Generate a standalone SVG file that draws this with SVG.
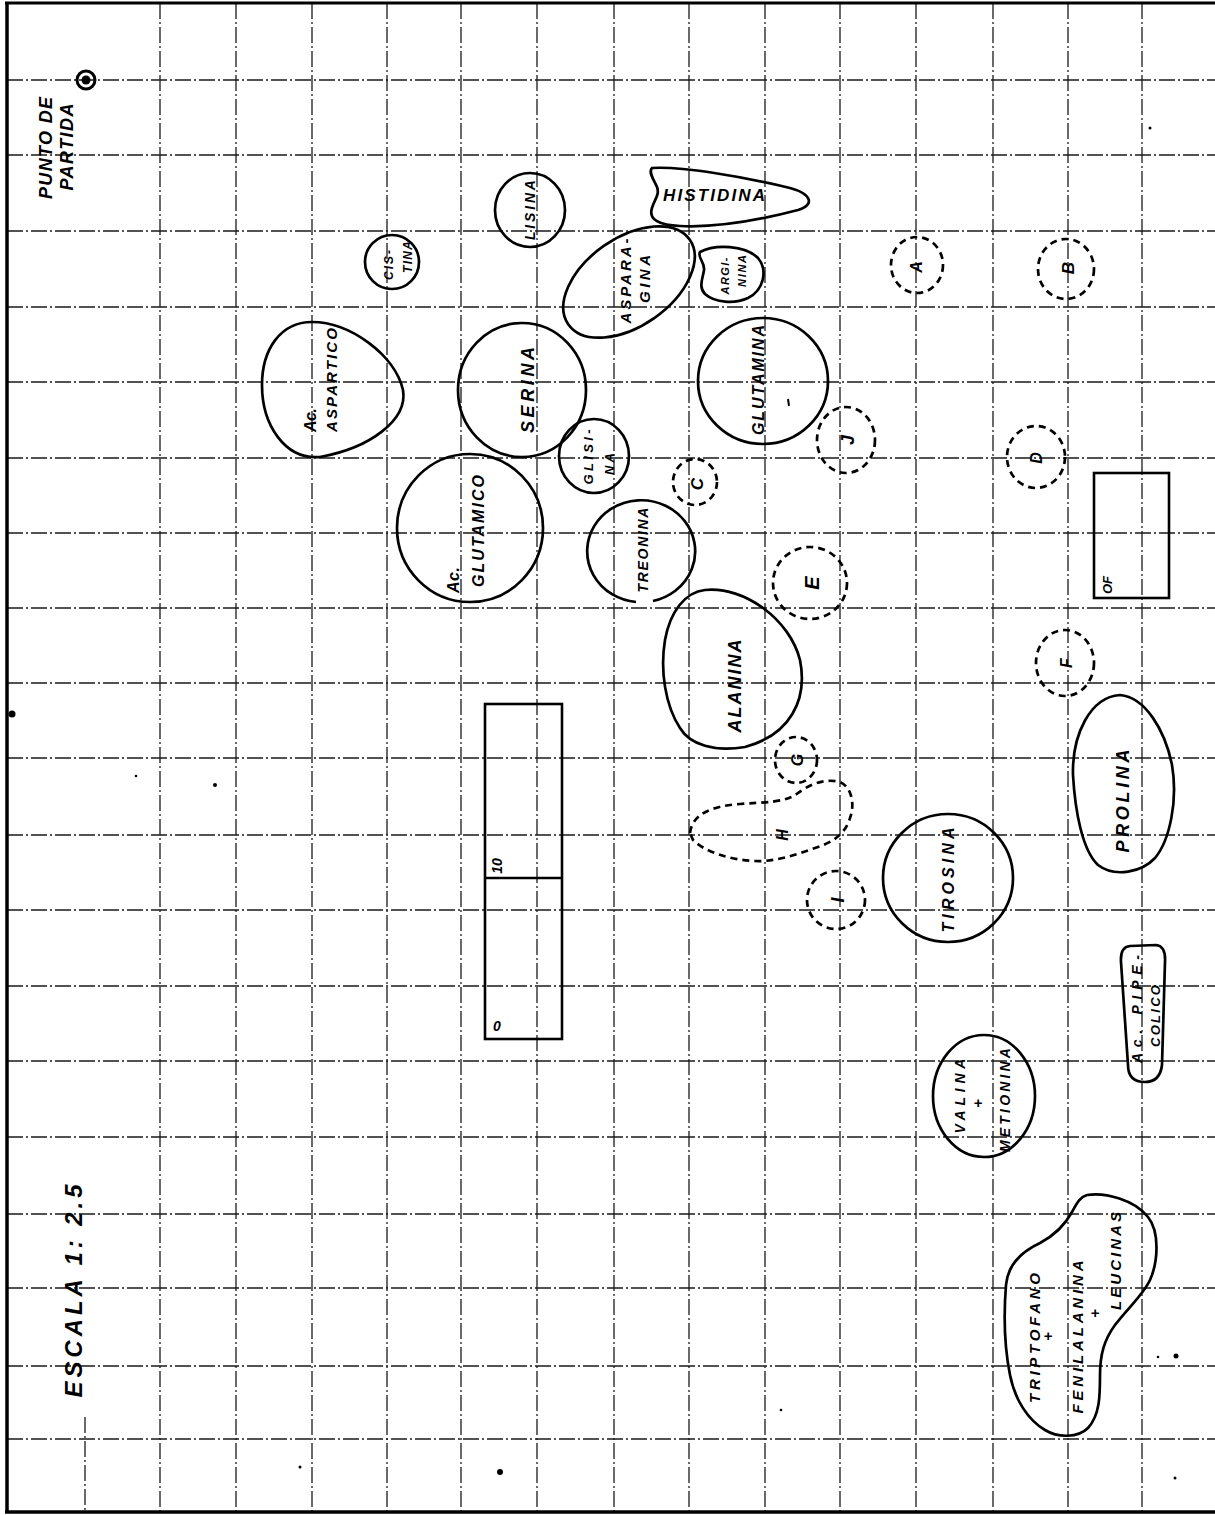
<svg xmlns="http://www.w3.org/2000/svg" width="1215" height="1515" viewBox="0 0 1215 1515">
<style>
.grid{stroke:#1a1a1a;stroke-width:1.3;stroke-dasharray:16 3 2 3;fill:none}
.border{stroke:#000;fill:none}
.spot{fill:none;stroke:#000;stroke-width:2.7}
.dash{fill:none;stroke:#000;stroke-width:2.7;stroke-dasharray:7 5}
.box{fill:none;stroke:#000;stroke-width:2.6}
.lbl{font-family:"Liberation Sans",Arial,sans-serif;font-weight:bold;font-style:italic;fill:#000;text-anchor:middle;dominant-baseline:central}
.dot{fill:#000}
</style>
<rect x="0" y="0" width="1215" height="1515" fill="#fff"/>
<g id="grid">
<line class="grid" x1="160" y1="3" x2="160" y2="1512"/>
<line class="grid" x1="236" y1="3" x2="236" y2="1512"/>
<line class="grid" x1="312" y1="3" x2="312" y2="1512"/>
<line class="grid" x1="387" y1="3" x2="387" y2="1512"/>
<line class="grid" x1="461" y1="3" x2="461" y2="1512"/>
<line class="grid" x1="537" y1="3" x2="537" y2="1512"/>
<line class="grid" x1="614" y1="3" x2="614" y2="1512"/>
<line class="grid" x1="689" y1="3" x2="689" y2="1512"/>
<line class="grid" x1="765" y1="3" x2="765" y2="1512"/>
<line class="grid" x1="840" y1="3" x2="840" y2="1512"/>
<line class="grid" x1="916" y1="3" x2="916" y2="1512"/>
<line class="grid" x1="993" y1="3" x2="993" y2="1512"/>
<line class="grid" x1="1068" y1="3" x2="1068" y2="1512"/>
<line class="grid" x1="1142" y1="3" x2="1142" y2="1512"/>
<line class="grid" x1="85" y1="1417" x2="85" y2="1512"/>
<line class="grid" x1="7" y1="80" x2="1215" y2="80"/>
<line class="grid" x1="7" y1="155" x2="1215" y2="155"/>
<line class="grid" x1="7" y1="231" x2="1215" y2="231"/>
<line class="grid" x1="7" y1="307" x2="1215" y2="307"/>
<line class="grid" x1="7" y1="382" x2="1215" y2="382"/>
<line class="grid" x1="7" y1="458" x2="1215" y2="458"/>
<line class="grid" x1="7" y1="533" x2="1215" y2="533"/>
<line class="grid" x1="7" y1="608" x2="1215" y2="608"/>
<line class="grid" x1="7" y1="683" x2="1215" y2="683"/>
<line class="grid" x1="7" y1="758" x2="1215" y2="758"/>
<line class="grid" x1="7" y1="835" x2="1215" y2="835"/>
<line class="grid" x1="7" y1="910" x2="1215" y2="910"/>
<line class="grid" x1="7" y1="986" x2="1215" y2="986"/>
<line class="grid" x1="7" y1="1061" x2="1215" y2="1061"/>
<line class="grid" x1="7" y1="1137" x2="1215" y2="1137"/>
<line class="grid" x1="7" y1="1214" x2="1215" y2="1214"/>
<line class="grid" x1="7" y1="1288" x2="1215" y2="1288"/>
<line class="grid" x1="7" y1="1366" x2="1215" y2="1366"/>
<line class="grid" x1="7" y1="1439" x2="1215" y2="1439"/>
<line class="border" stroke-width="3.5" x1="7" y1="2" x2="7" y2="1513"/>
<line class="border" stroke-width="3" x1="5" y1="3" x2="1215" y2="3"/>
<line class="border" stroke-width="3.5" x1="5" y1="1512" x2="1215" y2="1512"/>
</g>
<g id="marks">
<circle class="dot" cx="12" cy="714" r="3.5"/>
<circle class="dot" cx="215" cy="785" r="2"/>
<circle class="dot" cx="136" cy="776" r="1.3"/>
<circle class="dot" cx="500" cy="1472" r="3"/>
<circle class="dot" cx="300" cy="1467" r="1.5"/>
<circle class="dot" cx="1176" cy="1356" r="2.5"/>
<circle class="dot" cx="1158" cy="1357" r="1.3"/>
<circle class="dot" cx="1175" cy="1478" r="1.5"/>
<circle class="dot" cx="781" cy="1410" r="1.3"/>
<circle class="dot" cx="1150" cy="128" r="1.5"/>
</g>
<g id="start">
<circle cx="86" cy="80" r="9" fill="none" stroke="#000" stroke-width="3"/>
<circle class="dot" cx="86" cy="80" r="4.5"/>
<text class="lbl" font-size="18" textLength="102" transform="translate(46,148) rotate(-90)">PUNTO DE</text>
<text class="lbl" font-size="18" textLength="87" transform="translate(67,147) rotate(-90)">PARTIDA</text>
</g>
<g id="escala">
<text class="lbl" font-size="24" textLength="213" transform="translate(73,1291) rotate(-90)">ESCALA 1: 2.5</text>
</g>
<g id="cistina">
<ellipse class="spot" cx="392" cy="262" rx="27" ry="27"/>
<text class="lbl" font-size="12" textLength="30" transform="translate(389,265) rotate(-90)">CIS-</text>
<text class="lbl" font-size="12" textLength="32" transform="translate(408,257) rotate(-90)">TINA</text>
</g>
<g id="lisina">
<ellipse class="spot" cx="530" cy="210" rx="35" ry="37"/>
<text class="lbl" font-size="14" textLength="60" transform="translate(530,210) rotate(-90)">LISINA</text>
</g>
<g id="histidina">
<path class="spot" d="M652,168 C680,166 740,176 790,188 C812,194 815,205 798,210 C760,220 720,228 680,226 C660,225 648,220 652,208 C654,200 660,195 657,187 C654,180 648,172 652,168 Z"/>
<text class="lbl" font-size="17" textLength="102" x="714" y="195">HISTIDINA</text>
</g>
<g id="asparagina">
<ellipse class="spot" cx="0" cy="0" rx="74" ry="44" transform="translate(629,282) rotate(-35)"/>
<text class="lbl" font-size="15" textLength="85" transform="translate(625,281) rotate(-90)">ASPARA-</text>
<text class="lbl" font-size="15" textLength="48" transform="translate(644,279) rotate(-90)">GINA</text>
</g>
<g id="arginina">
<path class="spot" d="M700,252 C715,244 745,245 758,258 C768,270 764,290 748,298 C735,304 715,303 705,294 C698,287 703,278 704,270 C705,262 697,257 700,252 Z"/>
<text class="lbl" font-size="11" textLength="37" transform="translate(725,276) rotate(-90)">ARGI-</text>
<text class="lbl" font-size="11" textLength="32" transform="translate(742,271) rotate(-90)">NINA</text>
</g>
<g id="ac-aspartico">
<path class="spot" d="M312,322 C350,322 395,355 403,390 C408,420 370,448 320,457 C285,460 262,425 262,385 C262,350 280,322 312,322 Z"/>
<text class="lbl" font-size="16" textLength="24" transform="translate(310,420) rotate(-90)">Ac.</text>
<text class="lbl" font-size="15" textLength="104" transform="translate(331,380) rotate(-90)">ASPARTICO</text>
</g>
<g id="serina">
<ellipse class="spot" cx="522" cy="390" rx="64" ry="67"/>
<text class="lbl" font-size="18" textLength="86" transform="translate(528,390) rotate(-90)">SERINA</text>
</g>
<g id="glutamina">
<ellipse class="spot" cx="763" cy="381" rx="65" ry="63"/>
<text class="lbl" font-size="16" textLength="110" transform="translate(758,380) rotate(-90)">GLUTAMINA</text>
<line x1="788" y1="399" x2="789" y2="406" stroke="#000" stroke-width="2"/>
</g>
<g id="glisina">
<ellipse class="spot" cx="594" cy="456" rx="35" ry="37"/>
<text class="lbl" font-size="13" textLength="55" transform="translate(588,457) rotate(-90)">GLISI-</text>
<text class="lbl" font-size="13" textLength="22" transform="translate(609,464) rotate(-90)">NA</text>
</g>
<g id="ac-glutamico">
<ellipse class="spot" cx="470" cy="528" rx="73" ry="74"/>
<text class="lbl" font-size="16" textLength="26" transform="translate(453,580) rotate(-90)">Ac.</text>
<text class="lbl" font-size="16" textLength="112" transform="translate(478,531) rotate(-90)">GLUTAMICO</text>
</g>
<g id="treonina">
<path class="spot" d="M653,601 A54,51 0 1 0 636,602"/>
<text class="lbl" font-size="14" textLength="85" transform="translate(643,550) rotate(-90)">TREONINA</text>
</g>
<g id="alanina">
<path class="spot" d="M705,590 C745,586 790,620 800,660 C808,700 790,735 745,747 C715,752 690,745 680,728 C665,705 660,670 665,640 C670,612 685,592 705,590 Z"/>
<text class="lbl" font-size="18" textLength="93" transform="translate(735,686) rotate(-90)">ALANINA</text>
</g>
<g id="prolina">
<path class="spot" d="M1120,695 C1145,697 1165,730 1172,765 C1178,800 1170,840 1155,858 C1142,872 1115,878 1098,865 C1082,850 1075,810 1073,775 C1072,735 1090,697 1120,695 Z"/>
<text class="lbl" font-size="18" textLength="103" transform="translate(1123,801) rotate(-90)">PROLINA</text>
</g>
<g id="tirosina">
<ellipse class="spot" cx="948" cy="878" rx="65" ry="64"/>
<text class="lbl" font-size="16" textLength="105" transform="translate(948,880) rotate(-90)">TIROSINA</text>
</g>
<g id="ac-pipecolico">
<path class="spot" d="M1130,946 L1156,945 Q1166,946 1165,962 L1162,1065 Q1160,1082 1145,1082 Q1128,1082 1128,1065 L1121,962 Q1120,947 1130,946 Z"/>
<text class="lbl" font-size="14" textLength="108" transform="translate(1137,1009) rotate(-90)">Ac. PIPE-</text>
<text class="lbl" font-size="13" textLength="62" transform="translate(1155,1016) rotate(-90)">COLICO</text>
</g>
<g id="valina-metionina">
<ellipse class="spot" cx="984" cy="1096" rx="51" ry="61"/>
<text class="lbl" font-size="14" textLength="75" transform="translate(960,1096) rotate(-90)">VALINA</text>
<text class="lbl" font-size="15" x="978" y="1102">+</text>
<text class="lbl" font-size="14" textLength="104" transform="translate(1005,1100) rotate(-90)">METIONINA</text>
</g>
<g id="triptofano-fenilalanina-leucinas">
<path class="spot" d="M1087,1195 C1105,1192 1135,1200 1148,1217 C1160,1232 1158,1262 1150,1280 C1143,1295 1128,1308 1115,1325 C1104,1340 1100,1355 1100,1375 C1100,1395 1100,1415 1088,1428 C1078,1438 1058,1438 1045,1430 C1028,1420 1015,1400 1010,1375 C1004,1345 1004,1310 1006,1285 C1008,1262 1025,1250 1040,1243 C1055,1235 1065,1225 1072,1212 C1077,1203 1080,1197 1087,1195 Z"/>
<text class="lbl" font-size="15" textLength="130" transform="translate(1034,1338) rotate(-90)">TRIPTOFANO</text>
<text class="lbl" font-size="15" x="1048" y="1335">+</text>
<text class="lbl" font-size="15" textLength="153" transform="translate(1077,1337) rotate(-90)">FENILALANINA</text>
<text class="lbl" font-size="15" x="1095" y="1312">+</text>
<text class="lbl" font-size="15" textLength="98" transform="translate(1115,1261) rotate(-90)">LEUCINAS</text>
</g>
<g id="spot-A"><ellipse class="dash" cx="917" cy="265" rx="26" ry="28"/><text class="lbl" font-size="16" transform="translate(916,267) rotate(-90)">A</text></g>
<g id="spot-B"><ellipse class="dash" cx="1066" cy="269" rx="28" ry="30"/><text class="lbl" font-size="17" transform="translate(1068,268) rotate(-90)">B</text></g>
<g id="spot-C"><ellipse class="dash" cx="695" cy="482" rx="22" ry="23"/><text class="lbl" font-size="17" transform="translate(697,484) rotate(-90)">C</text></g>
<g id="spot-D"><ellipse class="dash" cx="1036" cy="457" rx="29" ry="31"/><text class="lbl" font-size="16" transform="translate(1036,458) rotate(-90)">D</text></g>
<g id="spot-E"><ellipse class="dash" cx="810" cy="583" rx="37" ry="36"/><text class="lbl" font-size="20" transform="translate(812,583) rotate(-90)">E</text></g>
<g id="spot-F"><ellipse class="dash" cx="1065" cy="663" rx="29" ry="33"/><text class="lbl" font-size="16" transform="translate(1066,663) rotate(-90)">F</text></g>
<g id="spot-G"><ellipse class="dash" cx="796" cy="760" rx="21" ry="23"/><text class="lbl" font-size="16" transform="translate(797,760) rotate(-90)">G</text></g>
<g id="spot-H"><path class="dash" d="M690,833 C692,815 710,806 740,804 C765,802 785,803 798,793 C810,784 825,778 840,782 C852,787 855,805 850,818 C846,832 835,842 815,848 C795,855 775,862 755,861 C730,860 705,852 693,840 Z"/><text class="lbl" font-size="16" transform="translate(782,835) rotate(-90)">H</text></g>
<g id="spot-I"><ellipse class="dash" cx="836" cy="900" rx="29" ry="29"/><text class="lbl" font-size="18" transform="translate(838,900) rotate(-90)">I</text></g>
<g id="spot-J"><ellipse class="dash" cx="846" cy="440" rx="29" ry="33"/><text class="lbl" font-size="18" transform="translate(848,440) rotate(-90)">J</text></g>
<g id="scale-strip">
<rect class="box" x="485" y="704" width="77" height="335"/>
<line class="box" x1="485" y1="878" x2="562" y2="878"/>
<text class="lbl" font-size="14" transform="translate(497,866) rotate(-90)">10</text>
<text class="lbl" font-size="14" x="497" y="1026">0</text>
</g>
<g id="of-box">
<rect class="box" x="1094" y="473" width="75" height="125"/>
<text class="lbl" font-size="13" transform="translate(1107,585) rotate(-90)">OF</text>
</g>
<g id="connectors"/>
</svg>
